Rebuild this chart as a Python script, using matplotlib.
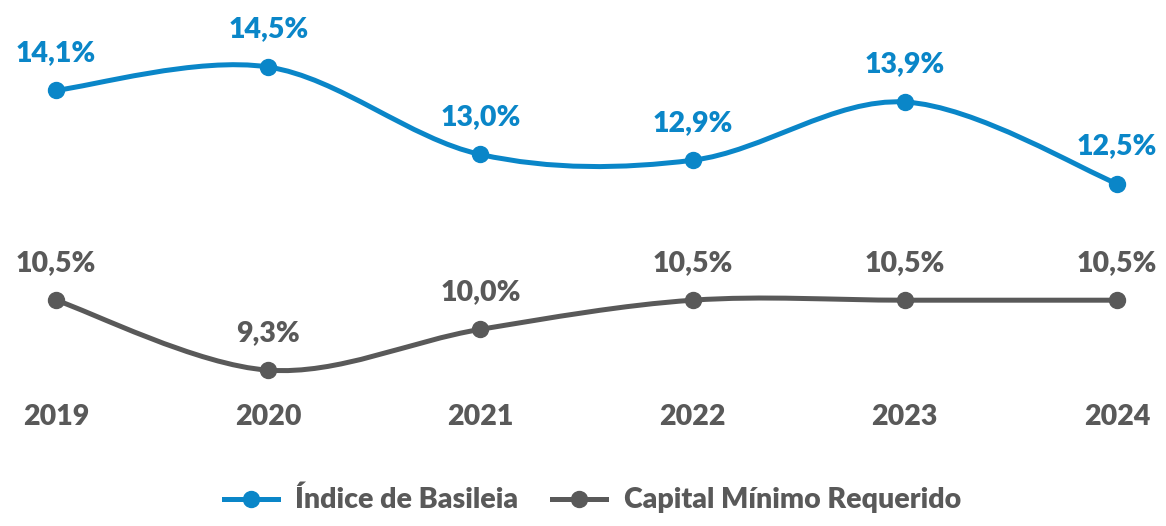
import matplotlib.pyplot as plt
from matplotlib.path import Path
from matplotlib.patches import PathPatch
from matplotlib.lines import Line2D
import numpy as np

years = ['2019', '2020', '2021', '2022', '2023', '2024']
basileia = [14.1, 14.5, 13.0, 12.9, 13.9, 12.5]
capital_minimo = [10.5, 9.3, 10.0, 10.5, 10.5, 10.5]

BLUE = '#0A86C8'
GREY = '#595959'
FONT = 'Lato'
WEIGHT = 'heavy'
SIZE = 20.5


def smooth_path(x, y):
    # Bezier segments with Catmull-Rom style control points (like a smoothed Excel line)
    pts = np.column_stack([x, y]).astype(float)
    n = len(pts)
    verts = [pts[0]]
    codes = [Path.MOVETO]
    for i in range(n - 1):
        p0 = pts[max(i - 1, 0)]
        p1 = pts[i]
        p2 = pts[i + 1]
        p3 = pts[min(i + 2, n - 1)]
        c1 = p1 + (p2 - p0) / 6.0
        c2 = p2 - (p3 - p1) / 6.0
        verts += [c1, c2, p2]
        codes += [Path.CURVE4] * 3
    return Path(verts, codes)


fig = plt.figure(figsize=(11.66, 5.26), dpi=100)
ax = fig.add_axes([0, 0, 1, 1])
ax.set_xlim(-0.264, 5.231)
ax.set_ylim(6.627, 15.649)
ax.axis('off')

x = np.arange(len(years))
for values, color in [(basileia, BLUE), (capital_minimo, GREY)]:
    ax.add_patch(PathPatch(smooth_path(x, values), facecolor='none',
                           edgecolor=color, lw=3.6, capstyle='round', zorder=2))
    ax.plot(x, values, 'o', color=color, markersize=11.5, zorder=3)
    for xi, v in zip(x, values):
        ax.annotate(f'{v:.1f}%'.replace('.', ','), (xi, v), xytext=(0, 27),
                    textcoords='offset points', ha='center', va='center',
                    fontsize=SIZE, fontweight=WEIGHT, color=color, family=FONT)

for xi, yr in zip(x, years):
    ax.text(xi, 8.497, yr, ha='center', va='center', fontsize=SIZE,
            fontweight=WEIGHT, color=GREY, family=FONT)

handles = [
    Line2D([], [], color=BLUE, lw=3.6, marker='o', markersize=11.5),
    Line2D([], [], color=GREY, lw=3.6, marker='o', markersize=11.5),
]
ax.legend(handles, ['Índice de Basileia', 'Capital Mínimo Requerido'],
          loc='center', bbox_to_anchor=(0.508, 0.049), ncol=2, frameon=False,
          handlelength=1.9, handletextpad=0.6, columnspacing=1.2,
          prop={'family': FONT, 'weight': WEIGHT, 'size': SIZE},
          labelcolor=GREY)

fig.savefig('out.png', dpi=100)
